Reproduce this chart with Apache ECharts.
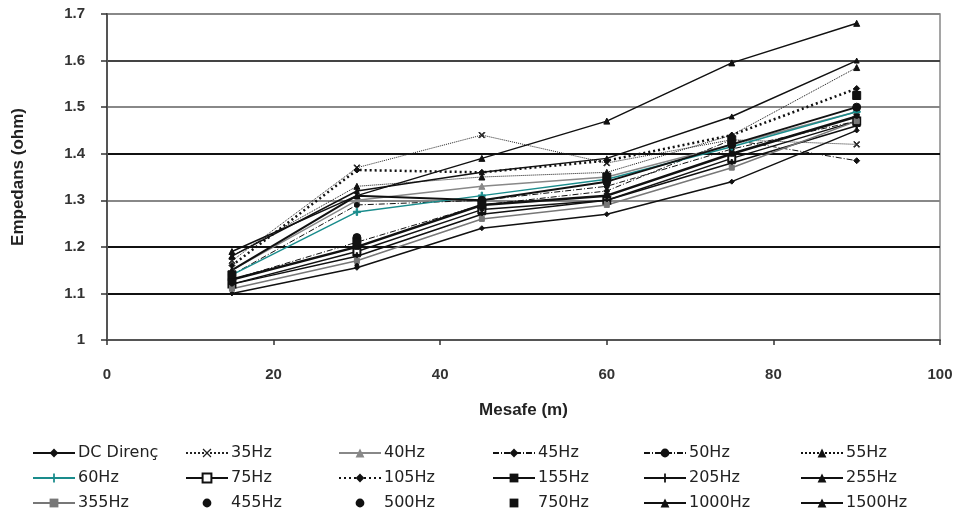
<!DOCTYPE html>
<html>
<head>
<meta charset="utf-8">
<script src="https://cdn.jsdelivr.net/npm/echarts@6/dist/echarts.min.js"></script>
<style>
  html, body { margin: 0; padding: 0; background: #fff; }
  #chart { width: 968px; height: 517px; }
</style>
</head>
<body>
<div id="chart"></div>
<script>
// mesafe (m)
const distances = [15, 30, 45, 60, 75, 90]
const xTicks = [0, 20, 40, 60, 80, 100]
const yTicks = [1, 1.1, 1.2, 1.3, 1.4, 1.5, 1.6, 1.7]

// empedans (ohm), one array per series
const dcDirenc = [1.10, 1.155, 1.24, 1.27, 1.34, 1.45]
const hz35 = [1.17, 1.37, 1.44, 1.38, 1.43, 1.42]
const hz40 = [1.15, 1.30, 1.33, 1.35, 1.42, 1.49]
const hz45 = [1.13, 1.21, 1.29, 1.32, 1.43, 1.385]
const hz50 = [1.14, 1.29, 1.30, 1.33, 1.41, 1.47]
const hz55 = [1.18, 1.33, 1.35, 1.36, 1.44, 1.585]
const hz60 = [1.14, 1.275, 1.31, 1.345, 1.415, 1.49]
const hz75 = [1.12, 1.19, 1.28, 1.30, 1.39, 1.47]
const hz105 = [1.16, 1.365, 1.36, 1.385, 1.44, 1.54]
const hz155 = [1.13, 1.20, 1.29, 1.31, 1.40, 1.48]
const hz205 = [1.12, 1.18, 1.27, 1.30, 1.38, 1.46]
const hz255 = [1.15, 1.31, 1.30, 1.34, 1.42, 1.50]
const hz355 = [1.11, 1.17, 1.26, 1.29, 1.37, 1.47]
const hz455 = [1.12, 1.16, 1.28, 1.33, 1.40, 1.48]
const hz500 = [1.13, 1.22, 1.30, 1.34, 1.42, 1.50]
const hz750 = [1.14, 1.21, 1.29, 1.35, 1.43, 1.525]
const hz1000 = [1.18, 1.32, 1.36, 1.39, 1.48, 1.60]
const hz1500 = [1.19, 1.31, 1.39, 1.47, 1.595, 1.68]

const dashDot = [6, 2, 1, 2]
const plus = 'path://M4,0L6,0L6,4L10,4L10,6L6,6L6,10L4,10L4,6L0,6L0,4L4,4Z'
const cross = 'path://M0,1L1,0L5,4L9,0L10,1L6,5L10,9L9,10L5,6L1,10L0,9L4,5Z'

// name, values, colour, line type, line width, symbol, symbol size
const seriesDefs = [
  ['DC Direnç', dcDirenc, '#111', 'solid', 1.5, 'diamond', 5],
  ['35Hz', hz35, '#222', 'dotted', 1, cross, 6],
  ['40Hz', hz40, '#888', 'solid', 1.5, 'triangle', 6],
  ['45Hz', hz45, '#111', dashDot, 1, 'diamond', 6],
  ['50Hz', hz50, '#111', dashDot, 1, 'circle', 5],
  ['55Hz', hz55, '#111', 'dotted', 1, 'triangle', 6],
  ['60Hz', hz60, '#1a8c8c', 'solid', 1.5, plus, 7],
  ['75Hz', hz75, '#111', 'solid', 1.5, 'emptyRect', 7],
  ['105Hz', hz105, '#111', [2, 3], 2.5, 'diamond', 6],
  ['155Hz', hz155, '#111', 'solid', 2.5, 'rect', 5],
  ['205Hz', hz205, '#111', 'solid', 1.5, plus, 7],
  ['255Hz', hz255, '#111', 'solid', 2, 'triangle', 6],
  ['355Hz', hz355, '#777', 'solid', 1.5, 'rect', 5],
  ['455Hz', hz455, '#111', 'solid', 0, 'circle', 4],
  ['500Hz', hz500, '#111', 'solid', 0, 'circle', 8],
  ['750Hz', hz750, '#111', 'solid', 0, 'rect', 8],
  ['1000Hz', hz1000, '#111', 'solid', 1.5, 'triangle', 5],
  ['1500Hz', hz1500, '#111', 'solid', 1.5, 'triangle', 6]
]

const chart = echarts.init(document.getElementById('chart'))

const series = seriesDefs.map(d => ({
  name: d[0],
  type: 'line',
  data: distances.map((x, i) => [x, d[1][i]]),
  symbol: d[5],
  symbolSize: d[6],
  showSymbol: true,
  color: d[2],
  itemStyle: { color: d[2], borderColor: d[2] },
  lineStyle: { color: d[2], type: d[3], width: d[4], opacity: d[4] === 0 ? 0 : 1 },
  animation: false
}))

// legend laid out as six columns of three rows
const colLeft = [32, 185, 338, 492, 643, 800]
const legends = colLeft.map((left, c) => ({
  orient: 'vertical',
  left: left,
  top: 445,
  height: 120,
  padding: 0,
  itemWidth: 42,
  itemHeight: 11,
  itemGap: 9,
  data: [seriesDefs[c][0], seriesDefs[c + 6][0], seriesDefs[c + 12][0]],
  textStyle: { fontFamily: 'DejaVu Sans', fontSize: 16, color: '#222', padding: [0, 0, 0, -2] }
}))

chart.setOption({
  backgroundColor: '#fff',
  animation: false,
  grid: {
    left: 107, right: 28, top: 14, bottom: 177,
    show: true, borderColor: '#888', borderWidth: 1.5
  },
  legend: legends,
  xAxis: {
    type: 'value',
    min: xTicks[0], max: xTicks[xTicks.length - 1], interval: 20,
    name: 'Mesafe (m)',
    nameLocation: 'middle',
    nameGap: 62,
    nameTextStyle: { fontFamily: 'Liberation Sans', fontSize: 17, fontWeight: 'bold', color: '#222' },
    axisLine: { show: true, lineStyle: { color: '#555', width: 2 } },
    axisTick: { show: true, inside: false, length: 5, lineStyle: { color: '#333', width: 1.5 } },
    axisLabel: { fontFamily: 'Liberation Sans', fontSize: 15, fontWeight: 'bold', color: '#333', margin: 27 },
    splitLine: { show: false }
  },
  yAxis: {
    type: 'value',
    min: yTicks[0], max: yTicks[yTicks.length - 1], interval: 0.1,
    name: 'Empedans (ohm)',
    nameLocation: 'middle',
    nameGap: 80,
    nameTextStyle: { fontFamily: 'Liberation Sans', fontSize: 17, fontWeight: 'bold', color: '#222' },
    axisLine: { show: true, lineStyle: { color: '#555', width: 2 } },
    axisTick: { show: true, inside: false, length: 6, lineStyle: { color: '#333', width: 1.5 } },
    axisLabel: {
      fontFamily: 'Liberation Sans', fontSize: 15, fontWeight: 'bold', color: '#333', margin: 22,
      formatter: v => String(+v.toFixed(1))
    },
    splitLine: {
      show: true,
      lineStyle: { color: ['#888', '#111', '#111', '#888', '#111', '#888', '#444', '#888'], width: 1.8 }
    }
  },
  series: series
})
</script>
</body>
</html>
